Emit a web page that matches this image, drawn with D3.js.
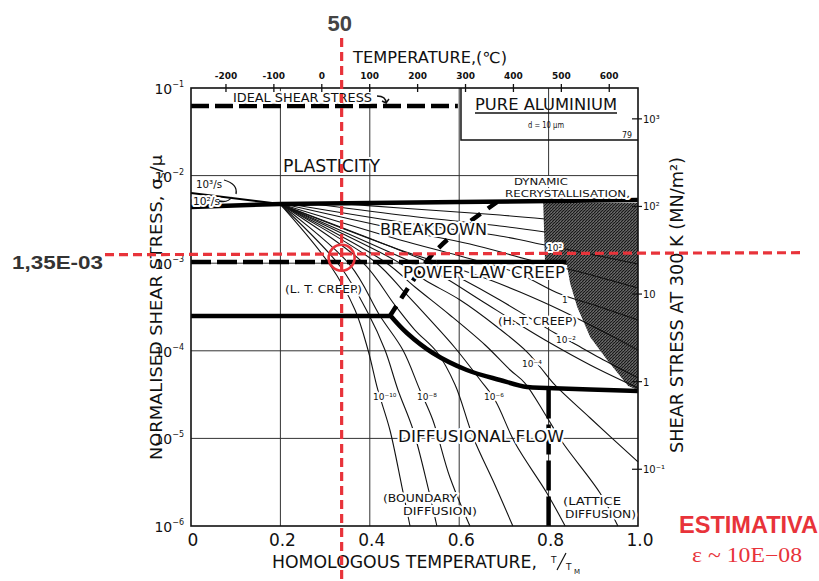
<!DOCTYPE html>
<html>
<head>
<meta charset="utf-8">
<script src="https://cdn.jsdelivr.net/npm/d3@7"></script>
<style>
body { margin: 0; background: #fff; }
text { font-family: "DejaVu Sans", sans-serif; fill: #111; }
.halo { paint-order: stroke; stroke: #fff; stroke-width: 4px; stroke-linejoin: round; }
</style>
</head>
<body>
<svg id="chart" width="819" height="581"></svg>
<script>
// all points are [T/Tm, log10(shear stress / shear modulus)]
var xTicks = [0, 0.2, 0.4, 0.6, 0.8, 1.0];
var xTickLabels = ["0", "0.2", "0.4", "0.6", "0.8", "1.0"];
var yTicks = [-6, -5, -4, -3, -2, -1];
var tempTicks = [-200, -100, 0, 100, 200, 300, 400, 500, 600];
var mnTicks = [1000, 100, 10, 1, 0.1];
var mnLabels = ["10³", "10²", "10", "1", "10⁻¹"];
var meltK = 933;
var mu300 = 2.25e4;

var idealShear = [[0, -1.205], [0.597, -1.205]];
var plasticity = [[0, -2.358], [0.2, -2.324], [0.6, -2.301], [1, -2.279]];
var plastFast = [[0, -2.199], [0.2, -2.324]];
var breakdownDashed = [[0, -2.986], [0.55, -2.986]];
var breakdownSolid = [[0.55, -2.986], [0.84, -2.986]];
var ltCreepEdge = [[0, -3.603], [0.445, -3.603]];
var ltPlcEdge = [[0.445, -3.603], [0.490, -3.249], [0.535, -2.929], [0.591, -2.655], [0.685, -2.301]];
var diffEdge = [[0.445, -3.591], [0.483, -3.797], [0.541, -4.025], [0.617, -4.219], [0.691, -4.333],
  [0.752, -4.413], [0.796, -4.425], [1, -4.459]];
var latticeEdge = [[0.8, -4.43], [0.8, -6]];
var dynRecryst = [[0.788, -2.313], [1, -2.313], [1, -4.447], [0.978, -4.402], [0.931, -4.105],
  [0.893, -3.842], [0.864, -3.5], [0.848, -3.226], [0.841, -3.021], [0.792, -2.986]];
var boxEdge = [[0.604, -1], [0.604, -1.594], [1, -1.594]];

// strain-rate contours, rate exponent (1/s)
var rates = [4, 3, 2, 1, 0, -1, -2, -3, -4, -5, -6, -7, -8, -9, -10];
var contours = [
  [[0.30, -2.307], [0.468, -2.370], [0.691, -2.450], [0.792, -2.495]],
  [[0.26, -2.313], [0.468, -2.450], [0.691, -2.575], [0.792, -2.644]],
  [[0.233, -2.336], [0.468, -2.530], [0.691, -2.689], [0.792, -2.792], [0.870, -2.872], [1, -3.009]],
  [[0.217, -2.336], [0.468, -2.621], [0.624, -2.781], [0.758, -2.963], [0.870, -3.100], [1, -3.283]],
  [[0.208, -2.336], [0.468, -2.735], [0.602, -2.918], [0.729, -3.112], [0.826, -3.352], [0.915, -3.5], [1, -3.648]],
  [[0.204, -2.336], [0.468, -2.849], [0.579, -3.032], [0.669, -3.192], [0.736, -3.329], [0.826, -3.534], [0.915, -3.763], [1, -3.991]],
  [[0.199, -2.324], [0.530, -2.986], [0.602, -3.169], [0.691, -3.42], [0.758, -3.626], [0.814, -3.797], [0.859, -3.922], [0.915, -4.082], [1, -4.311]],
  [[0.199, -2.324], [0.494, -2.986], [0.557, -3.135], [0.647, -3.42], [0.736, -3.705], [0.792, -3.877], [0.893, -4.162], [1, -4.425]],
  [[0.199, -2.324], [0.463, -2.986], [0.523, -3.192], [0.602, -3.42], [0.685, -3.728], [0.752, -4.014], [0.781, -4.185], [0.814, -4.39], [0.893, -4.767], [1, -5.269]],
  [[0.199, -2.324], [0.434, -2.986], [0.501, -3.272], [0.579, -3.591], [0.658, -3.934], [0.714, -4.219], [0.747, -4.368], [0.796, -4.756], [0.832, -5.053], [0.915, -5.623], [0.955, -6]],
  [[0.199, -2.324], [0.412, -2.986], [0.479, -3.34], [0.535, -3.648], [0.591, -3.968], [0.647, -4.333], [0.680, -4.562], [0.725, -5.053], [0.796, -5.623], [0.837, -6]],
  [[0.199, -2.324], [0.383, -2.986], [0.456, -3.477], [0.501, -3.763], [0.550, -4.014], [0.591, -4.39], [0.631, -4.984], [0.680, -5.532], [0.720, -6]],
  [[0.199, -2.324], [0.356, -3.021], [0.423, -3.603], [0.474, -3.991], [0.512, -4.447], [0.541, -4.79], [0.579, -5.441], [0.624, -6]],
  [[0.199, -2.324], [0.333, -3.032], [0.396, -3.568], [0.434, -3.991], [0.463, -4.447], [0.497, -4.904], [0.530, -5.555], [0.550, -6]],
  [[0.199, -2.324], [0.311, -3.021], [0.367, -3.534], [0.396, -3.991], [0.418, -4.447], [0.445, -4.904], [0.472, -5.555], [0.490, -6]]
];

// red estimate marker
var markT = 0.337, markL = -2.903;

var svg = d3.select("#chart");
var x = d3.scaleLinear().domain([0, 1]).range([191, 638]);
var y = d3.scaleLog().domain([1e-6, 1e-1]).range([526, 88]);
var xC = d3.scaleLinear().domain([-273, meltK - 273]).range([191, 638]);
var yMN = d3.scaleLog().domain([1e-6 * mu300, 1e-1 * mu300]).range([526, 88]);

function px(d) { return x(d[0]); }
function py(d) { return y(Math.pow(10, d[1])); }
var straight = d3.line().x(px).y(py);
var smooth = d3.line().x(px).y(py).curve(d3.curveCatmullRom.alpha(0.5));

function text(s, xx, yy, size, len, extra) {
  var t = svg.append("text").attr("x", xx).attr("y", yy)
    .attr("font-size", size).text(s);
  if (len) t.attr("textLength", len).attr("lengthAdjust", "spacingAndGlyphs");
  if (extra) extra(t);
  return t;
}

// stipple texture for the dynamic recrystallisation field
var pat = svg.append("defs").append("pattern")
  .attr("id", "stip").attr("width", 3).attr("height", 3)
  .attr("patternUnits", "userSpaceOnUse");
pat.append("rect").attr("width", 3).attr("height", 3).attr("fill", "#6e6e6e");
pat.append("path").attr("d", "M0,3L3,0M-1,1L1,-1").attr("stroke", "#151515").attr("stroke-width", 1.1);

// grid
svg.append("g").selectAll("line").data(xTicks.slice(1, -1)).enter().append("line")
  .attr("x1", d => x(d)).attr("x2", d => x(d)).attr("y1", y(1e-1)).attr("y2", y(1e-6))
  .attr("stroke", "#333").attr("stroke-width", 1);
svg.append("g").selectAll("line").data(yTicks.slice(1, -1)).enter().append("line")
  .attr("x1", x(0)).attr("x2", x(1)).attr("y1", d => y(Math.pow(10, d))).attr("y2", d => y(Math.pow(10, d)))
  .attr("stroke", "#333").attr("stroke-width", 1);

svg.append("path").attr("d", straight(dynRecryst) + "Z").attr("fill", "url(#stip)").attr("stroke", "none");

// contours
svg.append("g").selectAll("path").data(contours).enter().append("path")
  .attr("d", smooth).attr("fill", "none").attr("stroke", "#111").attr("stroke-width", 1.1);

// field boundaries
function thick(data, dash, gen) {
  svg.append("path").attr("d", (gen || straight)(data)).attr("fill", "none")
    .attr("stroke", "#000").attr("stroke-width", 4.5)
    .attr("stroke-dasharray", dash || null);
}
thick(idealShear, "18,6");
thick(plasticity);
svg.append("path").attr("d", straight(plastFast)).attr("fill", "none").attr("stroke", "#000").attr("stroke-width", 2);
thick(breakdownDashed, "20,6");
thick(breakdownSolid);
thick(ltCreepEdge);
thick(ltPlcEdge, "12,9", smooth);
thick(diffEdge, null, smooth);
thick(latticeEdge, "30,6");
svg.append("path").attr("d", straight(boxEdge)).attr("fill", "none").attr("stroke", "#111").attr("stroke-width", 1.5);

// frame
svg.append("rect").attr("x", x(0)).attr("y", y(1e-1)).attr("width", x(1) - x(0)).attr("height", y(1e-6) - y(1e-1))
  .attr("fill", "none").attr("stroke", "#111").attr("stroke-width", 1.6);

// field labels
var H = t => t.attr("class", "halo");
text("IDEAL SHEAR STRESS", 233, 102, 12, 139, H);
svg.append("path").attr("d", "M377,96 Q386,96 386,103 L382,101 M386,103 L389,99").attr("fill", "none").attr("stroke", "#111").attr("stroke-width", 1.5);
text("PURE ALUMINIUM", 475, 110, 16, 142);
svg.append("line").attr("x1", 475).attr("x2", 617).attr("y1", 113).attr("y2", 113).attr("stroke", "#111").attr("stroke-width", 1.3);
text("d = 10 µm", 528, 128, 9, 36);
text("79", 622, 138, 8, 10);
text("PLASTICITY", 283, 172, 17, 97, H);
text("BREAKDOWN", 380, 235, 16, 107, H);
text("POWER LAW CREEP", 403, 278, 16, 162, H);
text("(L. T. CREEP)", 285, 293, 11, 77, H);
text("(H. T. CREEP)", 498, 325, 11, 79, H);
text("DYNAMIC", 514, 185, 9, 54, H);
text("RECRYSTALLISATION,", 505, 197, 9.5, 125, H);
text("DIFFUSIONAL FLOW", 398, 442, 16, 166, H);
text("(BOUNDARY", 383, 502, 11, 74, H);
text("DIFFUSION)", 403, 515, 11, 74, H);
text("(LATTICE", 563, 505, 11, 58, H);
text("DIFFUSION)", 565, 518, 11, 71, H);
text("10³/s", 196, 188, 10, 26, H);
text("10²/s", 193, 205, 10, 27, H);
svg.append("path").attr("d", "M224,180 Q238,184 236,194 M232,197 Q228,203 219,201").attr("fill", "none").attr("stroke", "#111").attr("stroke-width", 1.3);

var clabels = [["10⁻¹⁰", 373, 400], ["10⁻⁸", 417, 400], ["10⁻⁶", 484, 400], ["10⁻⁴", 522, 367],
  ["10⁻²", 556, 343], ["1", 562, 303], ["10²", 547, 251]];
clabels.forEach(c => text(c[0], c[1], c[2], 9, null, H));

// left axis
yTicks.forEach(function(v) {
  var t = text("10", 184, y(Math.pow(10, v)) + 6, 14, null, s => s.attr("text-anchor", "end"));
  t.append("tspan").attr("font-size", 8).attr("dy", -7).text(String(v).replace("-", "−"));
});
var lt = text("NORMALISED  SHEAR  STRESS,  σ", 0, 0, 15, 305, t => t.attr("transform", "translate(162,460) rotate(-90)"));
lt.append("tspan").attr("font-size", 10).attr("dy", 3).text("s");
lt.append("tspan").attr("dy", -3).text("/µ");

// bottom axis
xTicks.forEach(function(v, i) {
  text(xTickLabels[i], x(v) + 2, 546, 17, null, t => t.attr("text-anchor", "middle"));
});
text("HOMOLOGOUS  TEMPERATURE,", 272, 568, 18, 265);
// slanted fraction T/TM
text("T", 551, 563, 9);
svg.append("line").attr("x1", 566).attr("x2", 557).attr("y1", 553).attr("y2", 570).attr("stroke", "#111").attr("stroke-width", 1.2);
text("T", 566, 570, 9);
text("M", 574, 574, 7);

// top axis (°C)
tempTicks.forEach(function(v) {
  svg.append("line").attr("x1", xC(v)).attr("x2", xC(v)).attr("y1", 84).attr("y2", 92).attr("stroke", "#111").attr("stroke-width", 1.3);
  text(String(v), xC(v), 79, 9, null, t => t.attr("text-anchor", "middle").attr("font-weight", "bold"));
});
text("TEMPERATURE,(℃)", 353, 63, 15, 154);

// right axis (MN/m² at 300 K)
mnTicks.forEach(function(v, i) {
  svg.append("line").attr("x1", 632).attr("x2", 642).attr("y1", yMN(v)).attr("y2", yMN(v)).attr("stroke", "#111").attr("stroke-width", 1.2);
  text(mnLabels[i], 643, yMN(v) + 4, 10);
});
text("SHEAR  STRESS  AT  300 K  (MN/m²)", 0, 0, 17, 296, t => t.attr("transform", "translate(683,453) rotate(-90)"));

// red estimate overlay
var red = "#e8333a";
var mx = x(markT), my = y(Math.pow(10, markL));
svg.append("line").attr("x1", mx).attr("x2", mx).attr("y1", 38).attr("y2", 581)
  .attr("stroke", red).attr("stroke-width", 3.2).attr("stroke-dasharray", "9,5");
svg.append("line").attr("x1", 105).attr("x2", 800).attr("y1", my).attr("y2", my - 2)
  .attr("stroke", red).attr("stroke-width", 3.2).attr("stroke-dasharray", "9,5");
svg.append("circle").attr("cx", mx).attr("cy", my + 3).attr("r", 13)
  .attr("fill", "none").attr("stroke", red).attr("stroke-width", 2.6);
var sansB = "Liberation Sans, Arial, sans-serif";
text("50", mx - 2, 31, 22, null, t => t.attr("text-anchor", "middle").attr("font-weight", "bold").style("font-family", sansB).style("fill", "#444"));
text("1,35E-03", 12, 269, 18, 91, t => t.attr("font-weight", "bold").style("font-family", sansB).style("fill", "#333"));
text("ESTIMATIVA", 679, 533, 23, 139, t => t.attr("font-weight", "bold").style("font-family", sansB).style("fill", red));
text("ε ~ 10E−08", 692, 562, 20, 110, t => t.style("font-family", "Liberation Serif, serif").style("fill", red));
</script>
</body>
</html>
